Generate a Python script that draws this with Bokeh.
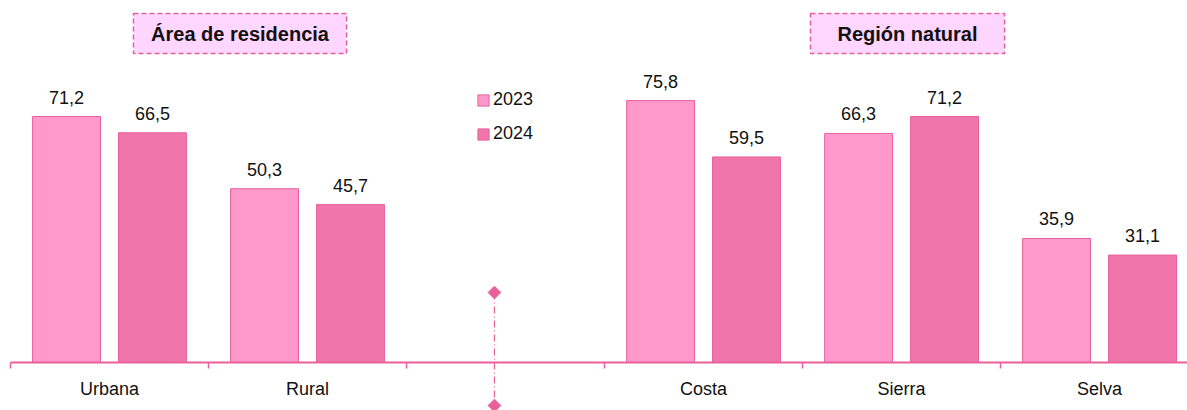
from bokeh.plotting import figure
from bokeh.models import (ColumnDataSource, FixedTicker, Legend, LegendItem)
from bokeh.core.properties import value
from bokeh.embed import file_html
from bokeh.resources import INLINE

# ---- data ----
group_a = ["Urbana", "Rural"]
group_b = ["Costa", "Sierra", "Selva"]
categories = group_a + group_b
v2023 = [71.2, 50.3, 75.8, 66.3, 35.9]
v2024 = [66.5, 45.7, 59.5, 71.2, 31.1]
series = ["2023", "2024"]
group_titles = ["Área de residencia", "Región natural"]

# ---- styling ----
FONT = "Liberation Sans"
C2023, C2024 = "#FF99CC", "#F075AA"
EDGE = "#E8609A"
BOX_FILL = "#FFD6FF"

# slots: group A, one empty slot, group B
slots = list(range(len(group_a))) + [len(group_a) + 1 + i for i in range(len(group_b))]
centers = [s + 0.5 for s in slots]
n_slots = len(group_a) + 1 + len(group_b)

OFF, BW = 0.217, 0.343
fmt = lambda v: f"{v:.1f}".replace(".", ",")

src23 = ColumnDataSource(dict(x=[c - OFF for c in centers], top=v2023,
                              lab=[fmt(v) for v in v2023]))
src24 = ColumnDataSource(dict(x=[c + OFF for c in centers], top=v2024,
                              lab=[fmt(v) for v in v2024]))

p = figure(width=1187, height=410, output_backend="svg", toolbar_location=None,
           x_range=(-0.0505, 5.944), y_range=(-13.89, 104.78),
           min_border=0, outline_line_color=None)
p.xgrid.visible = False
p.ygrid.visible = False
p.yaxis.visible = False

r23 = p.vbar(x="x", top="top", width=BW, source=src23, fill_color=C2023,
             line_color=EDGE, line_width=1)
r24 = p.vbar(x="x", top="top", width=BW, source=src24, fill_color=C2024,
             line_color=EDGE, line_width=1)

for s in (src23, src24):
    p.text(x="x", y="top", text="lab", source=s, text_align="center",
           text_baseline="bottom", y_offset=-13, text_font=value(FONT),
           text_font_size="18px", text_color="#111111")

# x axis at y=0 inside frame
ax = p.xaxis[0]
ax.fixed_location = 0
ax.bounds = (0, n_slots)
ax.ticker = FixedTicker(ticks=centers, minor_ticks=list(range(n_slots + 1)))
ax.major_label_overrides = {c: lab for c, lab in zip(centers, categories)}
ax.major_tick_line_color = None
ax.major_tick_out = 0
ax.major_tick_in = 0
ax.minor_tick_out = 6
ax.minor_tick_in = 0
ax.minor_tick_line_color = EDGE
ax.minor_tick_line_width = 1.5
ax.axis_line_color = EDGE
ax.axis_line_width = 2
ax.major_label_standoff = 10
ax.major_label_text_font = FONT
ax.major_label_text_font_size = "18px"
ax.major_label_text_color = "#111111"

# divider between groups
div_x = 2.444
p.line(x=[div_x, div_x], y=[20.26, -12.45], line_color=EDGE, line_width=1.2,
       line_dash="7 3 1 3")
p.scatter(x=[div_x, div_x], y=[20.26, -12.45], marker="square", angle=0.7854,
          size=9, fill_color=EDGE, line_color=EDGE)

# group title boxes
box_left = [0.621, 4.040]
box_right = [1.697, 5.020]
p.quad(left=box_left, right=box_right, top=[101.0, 101.0], bottom=[89.44, 89.44],
       fill_color=BOX_FILL, line_color=EDGE, line_width=1.5, line_dash="5 3")
p.text(x=[(a + b) / 2 for a, b in zip(box_left, box_right)], y=[95.2, 95.2],
       text=group_titles, text_align="center", text_baseline="middle",
       text_font=value(FONT), text_font_size="20px", text_font_style="bold",
       text_color="#111111")

legend = Legend(items=[LegendItem(label=series[0], renderers=[r23]),
                       LegendItem(label=series[1], renderers=[r24])],
                location=(476, 266), padding=0, margin=0, spacing=13,
                glyph_width=14, glyph_height=14, label_height=20,
                label_standoff=3, border_line_color=None,
                background_fill_alpha=0, label_text_font=FONT,
                label_text_font_size="18px", label_text_color="#111111")
p.add_layout(legend)

open("out.html", "w").write(file_html(p, INLINE))
